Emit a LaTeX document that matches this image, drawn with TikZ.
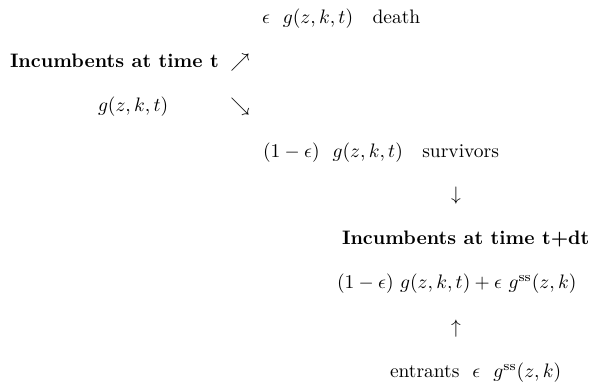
\documentclass[tikz,border=0pt]{standalone}
\usepackage{tikz}

\begin{document}
\begin{tikzpicture}[
  x=0.513pt, y=-0.513pt,
  every node/.style={inner sep=0pt, outer sep=0pt},
  txt/.style={anchor=base west},
  head/.style={anchor=base west, font=\bfseries},
  arr/.style={anchor=base},
]
\useasboundingbox (0,0) rectangle (589,389);

% ---- Incumbents at time t ----
\node[head] (inc)  at (10,68)  {Incumbents at time t};
\node[txt]  (incg) at (98,112) {$g(z,k,t)$};
\node[arr]  (ne)   at (240,68)  {$\nearrow$};
\node[arr]  (se)   at (240,112) {$\searrow$};

% ---- death / survivors ----
\node[txt] (death) at (262,24)  {$\epsilon\ \ g(z,k,t)$\ \ \ death};
\node[txt] (surv)  at (263,158) {$(1-\epsilon)\ \ g(z,k,t)$\ \ \ survivors};
\node[arr] (down)  at (456,201) {$\downarrow$};

% ---- Incumbents at time t+dt ----
\node[head] (incdt)  at (342,245) {Incumbents at time t+dt};
\node[txt]  (incdtg) at (337,289) {$(1-\epsilon)\ g(z,k,t)+\epsilon\ g^{\mathrm{ss}}(z,k)$};
\node[arr]  (up)     at (456,334) {$\uparrow$};
\node[txt]  (entr)   at (390,378) {entrants\ \ $\epsilon\ \ g^{\mathrm{ss}}(z,k)$};
\end{tikzpicture}
\end{document}
